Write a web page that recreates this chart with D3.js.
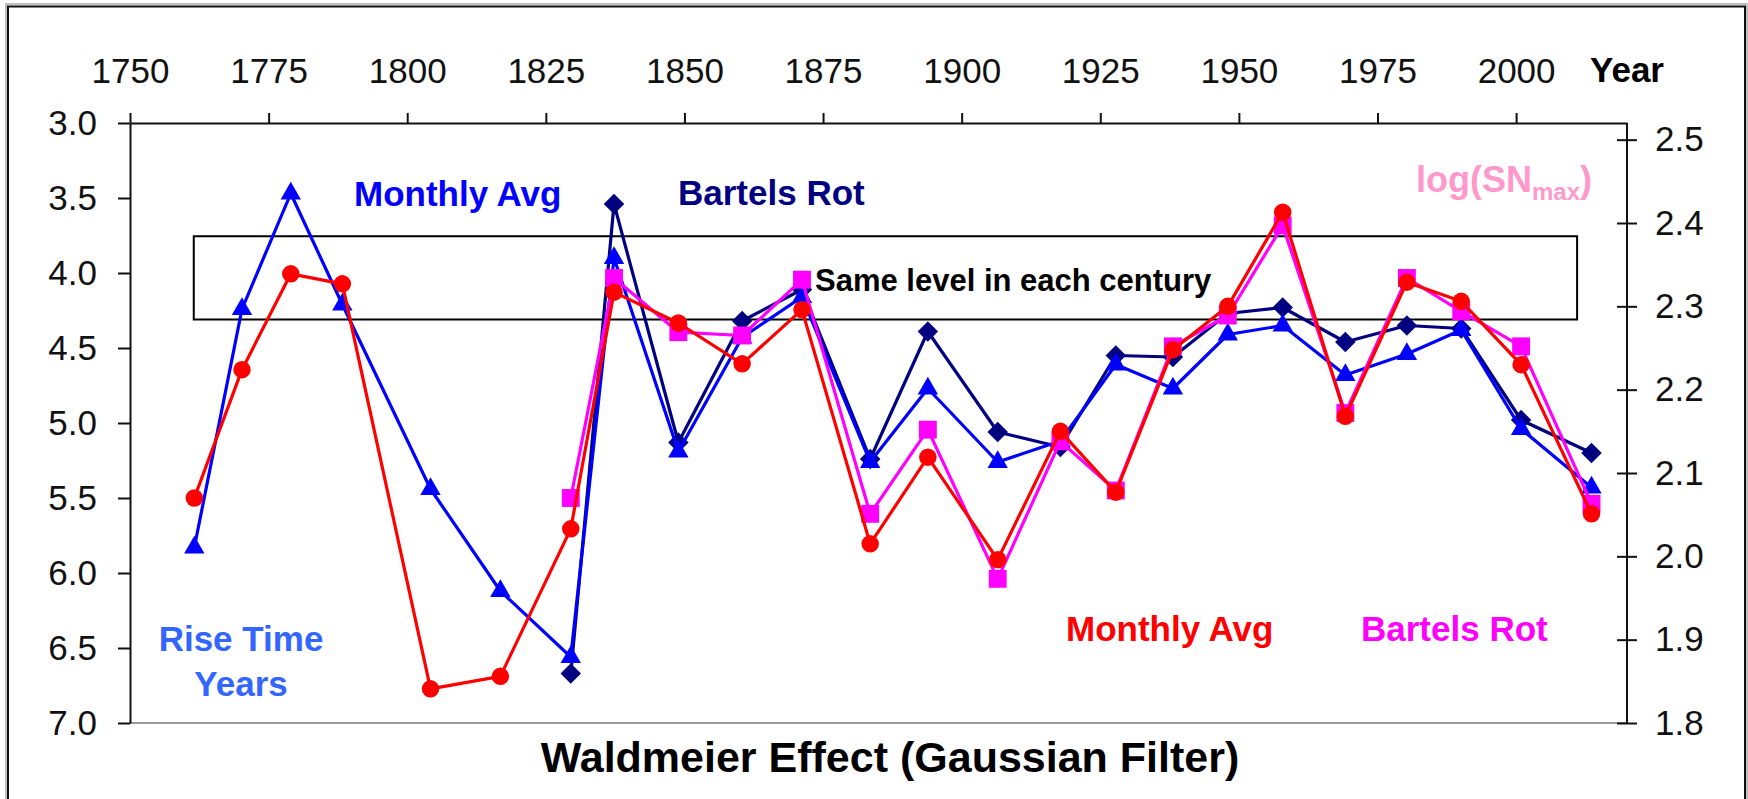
<!DOCTYPE html>
<meta charset="utf-8">
<style>
  body { margin: 0; background: #fff; }
  text { font-family: "Liberation Sans", Arial, sans-serif; }
</style>
<script src="https://d3js.org/d3.v7.min.js"></script>
<div id="chart"></div>
<script>

    // cycle maxima (year) and the four Gaussian filtered series
    var years = [1761.6, 1770.2, 1779.0, 1788.3, 1804.2, 1816.8, 1829.5, 1837.3, 1848.9, 1860.4, 1871.2, 1883.5,
                 1893.9, 1906.5, 1917.8, 1927.8, 1938.1, 1948.0, 1957.9, 1969.2, 1980.3, 1990.1, 2000.9, 2013.6];

    // rise time in years (left axis)
    var riseMonthly = [5.83, 4.24, 3.47, 4.21, 5.44, 6.12, 6.56, 3.90, 5.19, 4.43, 4.16, 5.26,
                       4.77, 5.26, 5.12, 4.61, 4.77, 4.41, 4.35, 4.68, 4.54, 4.38, 5.04, 5.43];
    var riseBartels = [null, null, null, null, null, null, 6.67, 3.54, 5.13, 4.32, 4.11, 5.24,
                       4.39, 5.06, 5.16, 4.55, 4.56, 4.27, 4.23, 4.46, 4.35, 4.37, 4.98, 5.20];

    // log(SNmax) (right axis)
    var logMonthly = [2.070, 2.224, 2.339, 2.327, 1.841, 1.856, 2.033, 2.317, 2.280, 2.231, 2.296, 2.015,
                      2.119, 1.996, 2.150, 2.077, 2.248, 2.300, 2.413, 2.168, 2.329, 2.306, 2.230, 2.051];
    var logBartels = [null, null, null, null, null, null, 2.070, 2.334, 2.269, 2.265, 2.332, 2.051,
                      2.152, 1.973, 2.138, 2.079, 2.252, 2.289, 2.397, 2.172, 2.334, 2.294, 2.252, 2.063];

    var topTicks = [1750, 1775, 1800, 1825, 1850, 1875, 1900, 1925, 1950, 1975, 2000];
    var leftTicks = [3.0, 3.5, 4.0, 4.5, 5.0, 5.5, 6.0, 6.5, 7.0];
    var rightTicks = [1.8, 1.9, 2.0, 2.1, 2.2, 2.3, 2.4, 2.5];

    var width = 1748, height = 799;
    var plot = {left: 130, right: 1627, top: 123, bottom: 723};

    var svg = d3.select("#chart")
      .append("svg")
        .attr("width", width)
        .attr("height", height);

    // outer frame
    svg.append("rect")
        .attr("x", 6).attr("y", 4)
        .attr("width", 1741).attr("height", 830)
        .attr("fill", "none")
        .attr("stroke", "#aaa")
        .attr("stroke-width", 1.5);
    svg.append("rect")
        .attr("x", 8).attr("y", 6.5)
        .attr("width", 1737).attr("height", 830)
        .attr("fill", "none")
        .attr("stroke", "#111")
        .attr("stroke-width", 2);

    var x = d3.scaleLinear().domain([1750, 2020]).range([plot.left, plot.right]);
    var yL = d3.scaleLinear().domain([3, 7]).range([plot.top, plot.bottom]);
    var yR = d3.scaleLinear().domain([1.8, 2.52]).range([plot.bottom, plot.top]);

    // plot area bottom border
    svg.append("line")
        .attr("x1", plot.left).attr("x2", plot.right)
        .attr("y1", plot.bottom).attr("y2", plot.bottom)
        .attr("stroke", "#999")
        .attr("stroke-width", 2);

    function styleAxis(g) {
      g.attr("font-family", "'Liberation Sans', Arial, sans-serif")
       .attr("font-size", 35);
      g.select(".domain").attr("stroke", "#111").attr("stroke-width", 2);
      g.selectAll(".tick line").attr("stroke", "#111").attr("stroke-width", 2);
      g.selectAll(".tick text").attr("fill", "#111");
    }

    svg.append("g")
        .attr("transform", "translate(0," + plot.top + ")")
        .call(d3.axisTop(x).tickValues(topTicks).tickFormat(d3.format("d"))
              .tickSizeInner(10).tickSizeOuter(0).tickPadding(30))
        .call(styleAxis);

    svg.append("g")
        .attr("transform", "translate(" + plot.left + ",0)")
        .call(d3.axisLeft(yL).tickValues(leftTicks).tickFormat(d3.format(".1f"))
              .tickSizeInner(12).tickSizeOuter(0).tickPadding(21))
        .call(styleAxis);

    var right = svg.append("g")
        .attr("transform", "translate(" + plot.right + ",0)")
        .call(d3.axisRight(yR).tickValues(rightTicks).tickFormat(d3.format(".1f"))
              .tickSizeInner(10).tickSizeOuter(0).tickPadding(18))
        .call(styleAxis);
    right.selectAll(".tick line").attr("x1", -10);
    right.select(".domain").attr("d", "M0," + plot.top + "V" + plot.bottom);

    svg.append("text")
        .attr("x", 1590).attr("y", 82)
        .attr("font-size", 35).attr("font-weight", "bold")
        .text("Year");

    // box: same level in each century
    svg.append("rect")
        .attr("x", x(1761.5)).attr("y", yL(3.755))
        .attr("width", x(2011) - x(1761.5))
        .attr("height", yL(4.31) - yL(3.755))
        .attr("fill", "none")
        .attr("stroke", "#000")
        .attr("stroke-width", 2);

    var series = [
      {values: riseBartels, y: yL, color: "#000080", symbol: d3.symbolSquare, size: 210, rotate: 45},
      {values: riseMonthly, y: yL, color: "#0000ff", symbol: d3.symbolTriangle, size: 180, rotate: 0},
      {values: logBartels, y: yR, color: "#ff00ff", symbol: d3.symbolSquare, size: 320, rotate: 0},
      {values: logMonthly, y: yR, color: "#ff0000", symbol: d3.symbolCircle, size: 240, rotate: 0}
    ];

    series.forEach(function(s) {
      var pts = years.map(function(yr, i) { return {year: yr, v: s.values[i]}; })
                     .filter(function(d) { return d.v != null; });
      var line = d3.line()
        .x(function(d) { return x(d.year); })
        .y(function(d) { return s.y(d.v); });
      svg.append("path")
          .datum(pts)
          .attr("d", line)
          .attr("fill", "none")
          .attr("stroke", s.color)
          .attr("stroke-width", 3.2)
          .attr("stroke-linejoin", "round");
      svg.selectAll(null)
        .data(pts)
        .enter()
        .append("path")
          .attr("d", d3.symbol().type(s.symbol).size(s.size))
          .attr("transform", function(d) {
            return "translate(" + x(d.year) + "," + s.y(d.v) + ") rotate(" + s.rotate + ")";
          })
          .attr("fill", s.color);
    });

    // series labels
    var labels = [
      {text: "Monthly Avg", x: 354, y: 206, color: "#0000ff"},
      {text: "Bartels Rot", x: 678, y: 205, color: "#000080"},
      {text: "Monthly Avg", x: 1066, y: 641, color: "#ff0000"},
      {text: "Bartels Rot", x: 1361, y: 641, color: "#ff00ff"}
    ];
    svg.selectAll(null)
      .data(labels)
      .enter()
      .append("text")
        .attr("x", function(d) { return d.x; })
        .attr("y", function(d) { return d.y; })
        .attr("font-size", 35)
        .attr("font-weight", "bold")
        .attr("fill", function(d) { return d.color; })
        .text(function(d) { return d.text; });

    var logLabel = svg.append("text")
        .attr("x", 1416).attr("y", 192)
        .attr("font-size", 36)
        .attr("font-weight", "bold")
        .attr("fill", "#ff99cc");
    logLabel.append("tspan").text("log(SN");
    logLabel.append("tspan").attr("font-size", 24).attr("dy", 8).text("max");
    logLabel.append("tspan").attr("dy", -8).text(")");

    svg.append("text")
        .attr("x", 241).attr("y", 651)
        .attr("text-anchor", "middle")
        .attr("font-size", 35).attr("font-weight", "bold")
        .attr("fill", "#3366ff")
        .text("Rise Time");
    svg.append("text")
        .attr("x", 241).attr("y", 696)
        .attr("text-anchor", "middle")
        .attr("font-size", 35).attr("font-weight", "bold")
        .attr("fill", "#3366ff")
        .text("Years");

    svg.append("text")
        .attr("x", 815).attr("y", 291)
        .attr("font-size", 31).attr("font-weight", "bold")
        .text("Same level in each century");

    svg.append("text")
        .attr("x", 890).attr("y", 772)
        .attr("text-anchor", "middle")
        .attr("font-size", 43).attr("font-weight", "bold")
        .text("Waldmeier Effect (Gaussian Filter)");

</script>
